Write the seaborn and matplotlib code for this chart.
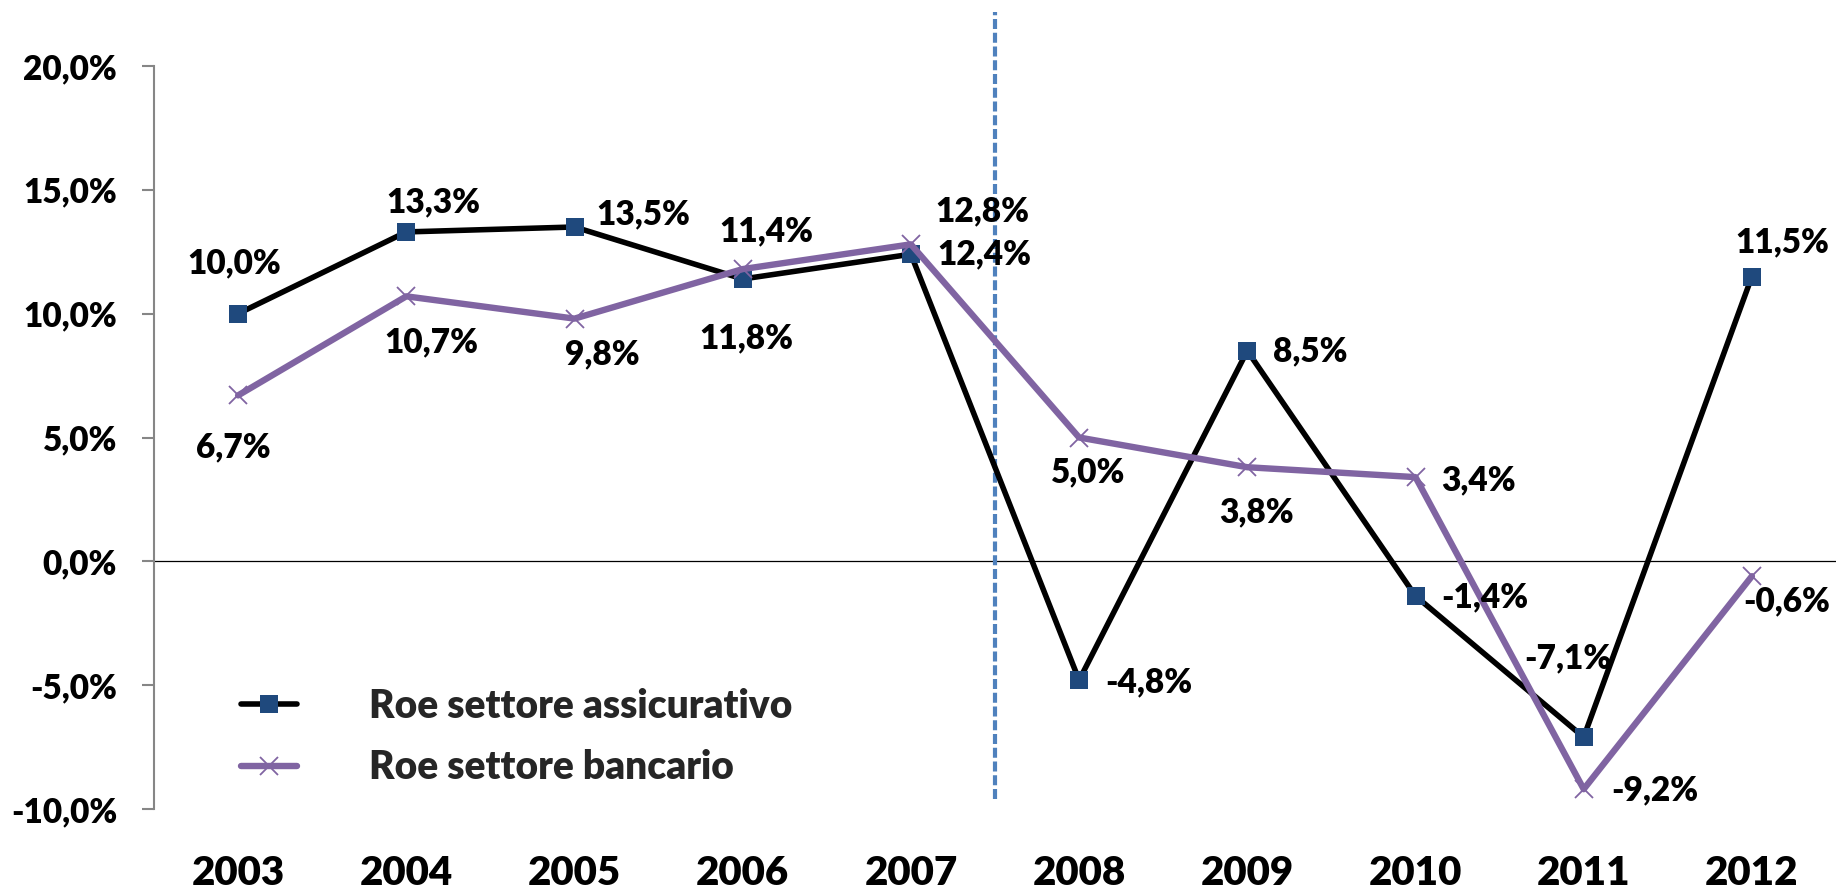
import matplotlib
matplotlib.use("Agg")
import matplotlib.pyplot as plt
import seaborn as sns
import numpy as np
import pandas as pd

years = ["2003", "2004", "2005", "2006", "2007", "2008", "2009", "2010", "2011", "2012"]
roe_assicurativo = [10.0, 13.3, 13.5, 11.4, 12.4, -4.8, 8.5, -1.4, -7.1, 11.5]
roe_bancario = [6.7, 10.7, 9.8, 11.8, 12.8, 5.0, 3.8, 3.4, -9.2, -0.6]
series_names = ["Roe settore assicurativo", "Roe settore bancario"]
ytick_values = [-10, -5, 0, 5, 10, 15, 20]
ytick_labels = ["-10,0%", "-5,0%", "0,0%", "5,0%", "10,0%", "15,0%", "20,0%"]

# label placement (offset pixels, horizontal alignment)
off_a = [(-4, 50, "center"), (27, 30, "center"), (22, 13, "left"), (24, 48, "center"),
         (26, 0, "left"), (26, -2, "left"), (26, -1, "left"), (26, -1, "left"),
         (-16, 79, "center"), (30, 34, "center")]
off_b = [(-5, -52, "center"), (25, -46, "center"), (28, -36, "center"), (4, -69, "center"),
         (24, 33, "left"), (9, -35, "center"), (9, -45, "center"), (26, -3, "left"),
         (28, -1, "left"), (-9, -25, "left")]

def fmt(v):
    return f"{v:.1f}".replace(".", ",") + "%"

WEIGHT = "heavy"

sns.set_theme(style="white")
plt.rcParams["font.family"] = ["Lato", "DejaVu Sans"]
plt.rcParams["font.weight"] = WEIGHT

fig = plt.figure(figsize=(18.36, 8.89), dpi=100)
ax = fig.add_axes([154 / 1836, 1 - 809 / 889, 1 - 154 / 1836, (809 - 66) / 889])

pos = np.arange(len(years))
df = pd.DataFrame({"pos": pos, "a": roe_assicurativo, "b": roe_bancario})

NAVY = "#1F497D"
PURPLE = "#8064A2"

sns.lineplot(data=df, x="pos", y="a", ax=ax, color="black", lw=4.0,
             marker="s", markersize=13.5, markerfacecolor=NAVY, markeredgecolor=NAVY,
             markeredgewidth=0, label=series_names[0], zorder=3)
sns.lineplot(data=df, x="pos", y="b", ax=ax, color=PURPLE, lw=4.6,
             marker="x", markersize=13, markeredgecolor=PURPLE, markeredgewidth=1.3,
             label=series_names[1], zorder=4)

ax.set_xlim(-0.5, len(years) - 0.5)
ax.set_ylim(-10, 20)
ax.set_yticks(ytick_values)
ax.set_yticklabels(ytick_labels)
ax.set_xticks(pos)
ax.set_xticklabels(years)
ax.set_xlabel("")
ax.set_ylabel("")

for s in ["top", "right", "bottom"]:
    ax.spines[s].set_visible(False)
ax.spines["left"].set_color("#868686")
ax.spines["left"].set_linewidth(1.5)
ax.tick_params(axis="y", which="major", left=True, length=8.6, width=1.5, color="#868686",
               pad=18, labelsize=24, labelcolor="black")
ax.tick_params(axis="x", length=0, pad=33, labelsize=29, labelcolor="black")
for t in ax.get_xticklabels() + ax.get_yticklabels():
    t.set_fontweight(WEIGHT)

ax.axhline(0, color="black", lw=0.9, zorder=1)
ax.axvline(4.5, ymin=(-9.6 + 10) / 30, ymax=(22.2 + 10) / 30, color="#4F81BD", lw=3,
           dashes=(2.4, 0.9), clip_on=False, zorder=2)

for i, v in enumerate(roe_assicurativo):
    dx, dy, ha = off_a[i]
    ax.annotate(fmt(v), (pos[i], v), xytext=(dx, dy), textcoords="offset pixels",
                ha=ha, va="center", fontsize=24, fontweight=WEIGHT, color="black", zorder=5)
for i, v in enumerate(roe_bancario):
    dx, dy, ha = off_b[i]
    ax.annotate(fmt(v), (pos[i], v), xytext=(dx, dy), textcoords="offset pixels",
                ha=ha, va="center", fontsize=24, fontweight=WEIGHT, color="black", zorder=5)

leg = ax.legend(loc="upper left", bbox_to_anchor=(241 / 1836, 1 - 688 / 889),
                bbox_transform=fig.transFigure, frameon=False, borderpad=0,
                borderaxespad=0, handlelength=1.45, handletextpad=1.85,
                labelspacing=0.62, prop={"size": 28, "weight": WEIGHT})

fig.savefig("out.png", dpi=100)
